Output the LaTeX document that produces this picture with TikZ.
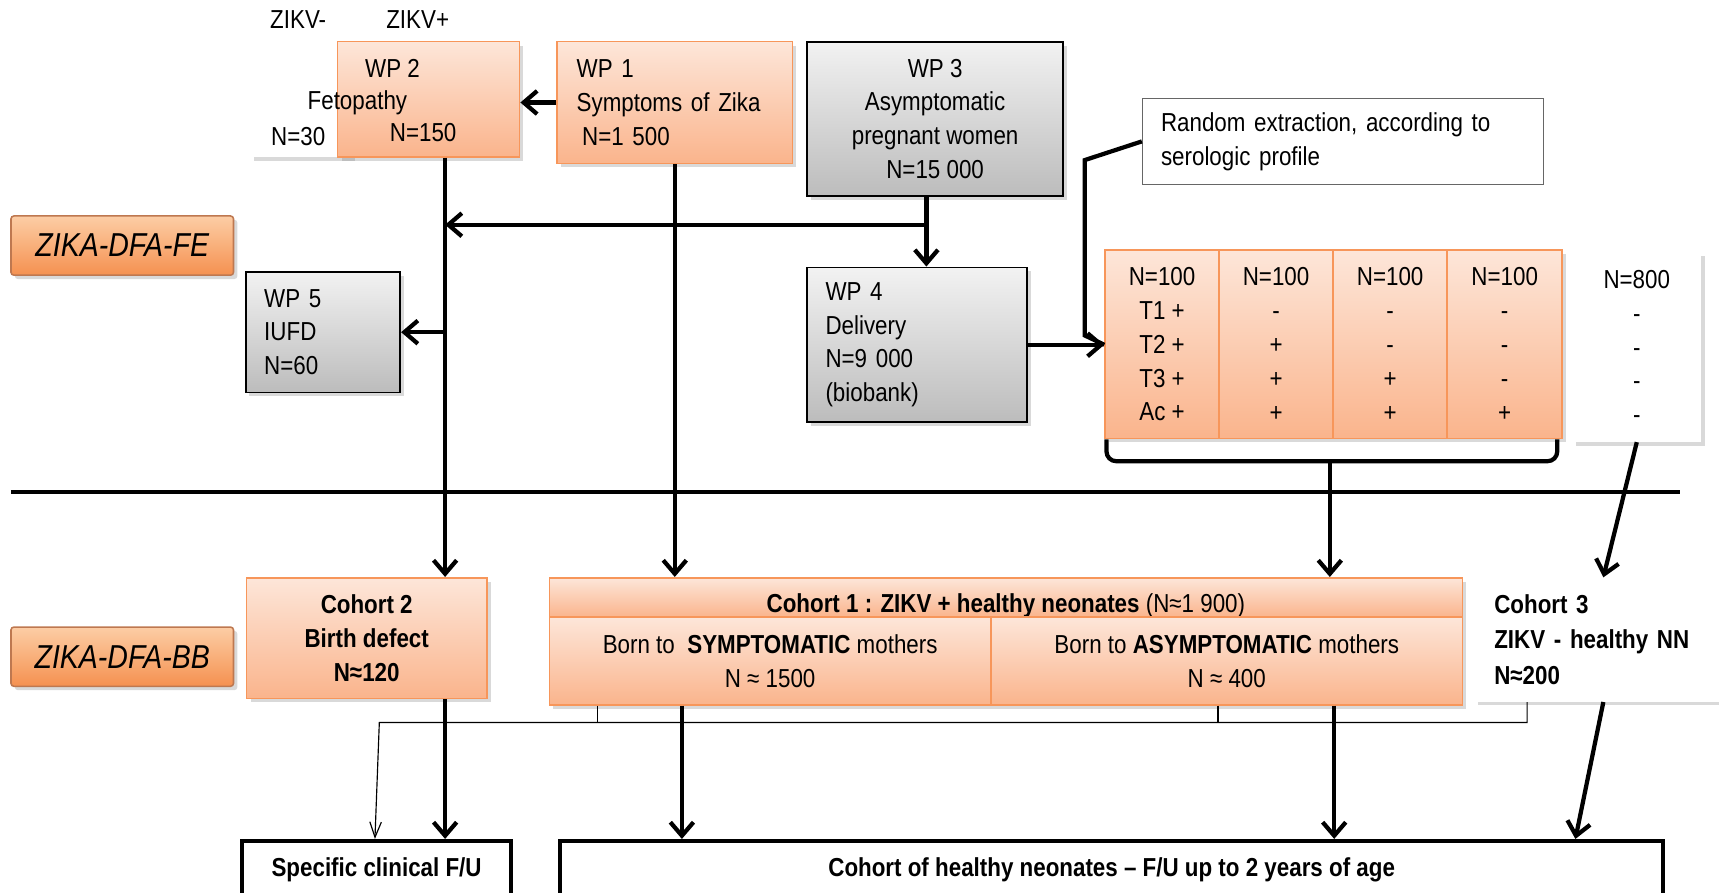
\documentclass[tikz,border=0pt]{standalone}
\usepackage{fontspec}
\setmainfont{Liberation Sans}[FakeStretch=0.86]
\usepackage{tikz}
\usetikzlibrary{arrows.meta,shadows}
\definecolor{wporange}{RGB}{250,180,140}
\definecolor{wporangelight}{RGB}{253,230,217}
\definecolor{wpedge}{RGB}{247,150,90}
\definecolor{tagorange}{RGB}{245,145,80}
\definecolor{taglight}{RGB}{252,205,165}
\definecolor{tagedge}{RGB}{190,120,80}
\definecolor{wpgrey}{RGB}{188,188,188}
\definecolor{wpgreylight}{RGB}{242,242,242}
\newcommand{\wpfont}{\fontsize{13.5}{17.6}\selectfont}

\begin{document}
\begin{tikzpicture}[x=0.02cm,y=-0.02cm,font=\wpfont,
  shade/.style={drop shadow={opacity=0.3,shadow xshift=2pt,shadow yshift=-2pt}},
  orangebox/.style={rectangle,inner sep=0pt,draw=wpedge,line width=0.8pt,top color=wporangelight,bottom color=wporange,shade},
  greybox/.style={rectangle,inner sep=0pt,draw=black,line width=1pt,top color=wpgreylight,bottom color=wpgrey,shade},
  whitebox/.style={rectangle,inner sep=0pt,fill=white,shade},
  tagbox/.style={rectangle,rounded corners=1.5pt,draw=tagedge,line width=0.8pt,top color=taglight,bottom color=tagorange,shade,
    minimum width=4.06cm,minimum height=1.08cm,font=\fontsize{17.2}{20}\selectfont\itshape},
  fubox/.style={rectangle,draw,line width=2pt,fill=white,font=\wpfont\bfseries,minimum height=1.04cm},
  arr/.style={line width=2.2pt,-{Straight Barb[length=7pt,width=12pt]}},
  thinarr/.style={line width=0.6pt,-{Straight Barb[length=8pt,width=6pt]}},
]
\useasboundingbox (0,0) rectangle (1568,814);

% work packages
\node[whitebox,minimum width=1.84cm,minimum height=2.1cm] (zneg) at (274,90.5) {};
\node[orangebox,minimum width=3.32cm,minimum height=2.1cm] (wp2) at (391,90.5) {};
\node (zn) at (272,18) {ZIKV-};
\node (zp) at (381,18) {ZIKV+};
\node (wp2a) at (358,62) {WP 2};
\node (wp2b) at (326,94) {Fetopathy};
\node (wp2c) at (386,121) {N=150};
\node (n30) at (272,125) {N=30};

\node[orangebox,minimum width=4.3cm,minimum height=2.22cm,text width=3.58cm,inner xsep=0.36cm,align=left] (wp1) at (615.5,93.5)
  {WP 1\\Symptoms of Zika\\\hspace{0.1cm}N=1 500};
\node[greybox,minimum width=4.68cm,minimum height=2.82cm,align=center] (wp3) at (853,108.5)
  {WP 3\\Asymptomatic\\pregnant women\\N=15 000};
\node[rectangle,draw=black!60,line width=0.6pt,fill=white,inner sep=0pt,minimum width=7.32cm,minimum height=1.56cm,
  text width=6.64cm,inner xsep=0.34cm,align=left] (rnd) at (1225,129)
  {Random extraction, according to\\serologic profile};

\node[tagbox] (fe) at (111.5,224) {ZIKA-DFA-FE};
\node[greybox,minimum width=2.82cm,minimum height=2.2cm,text width=2.14cm,inner xsep=0.34cm,align=left] (wp5) at (294.5,303)
  {WP 5\\IUFD\\N=60};
\node[greybox,minimum width=4.02cm,minimum height=2.82cm,text width=3.34cm,inner xsep=0.34cm,align=left] (wp4) at (836.5,314.5)
  {WP 4\\Delivery\\N=9 000\\(biobank)};

% serologic profiles
\node[orangebox,minimum width=2.08cm,minimum height=3.44cm,align=center] (c1) at (1060,314) {N=100\\T1 +\\T2 +\\T3 +\\Ac +};
\node[orangebox,minimum width=2.08cm,minimum height=3.44cm,align=center] (c2) at (1164,314) {N=100\\-\\+\\+\\+};
\node[orangebox,minimum width=2.08cm,minimum height=3.44cm,align=center] (c3) at (1268,314) {N=100\\-\\-\\+\\+};
\node[orangebox,minimum width=2.1cm,minimum height=3.44cm,align=center] (c4) at (1372.5,314) {N=100\\-\\-\\-\\+};
\node[whitebox,minimum width=2.36cm,minimum height=3.46cm,align=center] (c5) at (1493,316.5) {N=800\\-\\-\\-\\-};
\draw[line width=2.2pt,rounded corners=5pt] (c1.south west) ++(2,0) -- ++(0,20) -| ([xshift=-3pt]c4.south east);
\coordinate (brc) at (1213,420);

\draw[line width=2.2pt] (10,449) -- (1532,449);

% cohorts
\node[tagbox] (bb) at (111.5,599) {ZIKA-DFA-BB};
\node[orangebox,minimum width=4.38cm,minimum height=2.2cm,align=center,font=\wpfont\bfseries] (coh2) at (334.5,582)
  {Cohort 2\\Birth defect\\N≈120};
\node[orangebox,minimum width=16.66cm,minimum height=0.72cm,text height=0.56cm,text depth=0pt] (coh1) at (917.5,545)
  {\textbf{Cohort 1 : ZIKV + healthy neonates} (N≈1 900)};
\node[orangebox,minimum width=8.06cm,minimum height=1.6cm,align=center] (coh1a) at (702.5,603)
  {Born to\ \ \textbf{SYMPTOMATIC} mothers\\N ≈ 1500};
\node[orangebox,minimum width=8.6cm,minimum height=1.6cm,align=center] (coh1b) at (1119,603)
  {Born to \textbf{ASYMPTOMATIC} mothers\\N ≈ 400};
\node[whitebox,minimum width=4.7cm,minimum height=2.26cm,text width=3.98cm,inner xsep=0.36cm,align=left,font=\fontsize{13.5}{18.5}\selectfont\bfseries] (coh3) at (1462.5,583.5)
  {Cohort 3\\ZIKV - healthy NN\\N≈200};

% follow-up
\node[fubox,minimum width=4.9cm] (fu2) at (343.5,793) {Specific clinical F/U};
\node[fubox,minimum width=20.12cm] (fu1) at (1014,793) {Cohort of healthy neonates – F/U up to 2 years of age};

% arrows
\coordinate (jn) at (845,205);
\draw[arr] (wp1.west) -- (wp2.east |- wp1.west);
\draw[arr] (wp2.south -| 406,0) -- (coh2.north -| 406,0);
\draw[arr] (wp1.south) -- (coh1.north -| wp1.south);
\draw[arr] (wp3.south -| jn) -- (wp4.north -| jn);
\draw[arr] (jn) -- (jn -| 406,0);
\draw[arr] (wp5.east -| 406,0) -- (wp5.east);
\draw[arr] (wp4.east) -- (c1.west |- wp4.east);
\draw[line width=2.2pt] (rnd.west) -- ++(-52,17) -- ++(0,160) -- (c1.west |- wp4.east);
\draw[arr] (brc) -- (coh1.north -| brc);
\draw[arr] (c5.south) -- (coh3.north);

\draw[arr] (coh2.south -| 406,0) -- (fu2.north -| 406,0);
\draw[arr] (coh1a.south -| 622,0) -- (fu1.north -| 622,0);
\draw[arr] (coh1b.south -| 1217,0) -- (fu1.north -| 1217,0);
\draw[arr] (coh3.south) -- (fu1.north -| 1437,0);
\draw[thinarr] (coh3.south -| 1393,0) |- (346,659) -- (fu2.north -| 342,0);
\draw[line width=0.6pt] (coh1a.south -| 545,0) -- ++(0,16);
\draw[line width=0.6pt] (coh1b.south -| 1111,0) -- ++(0,16);
\end{tikzpicture}
\end{document}
